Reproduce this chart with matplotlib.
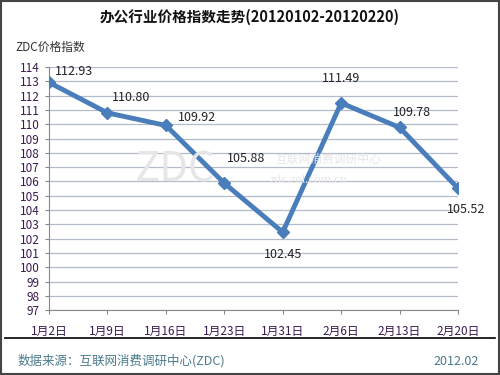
import matplotlib.pyplot as plt
from matplotlib.lines import Line2D

plt.rcParams['font.family'] = ['Noto Sans CJK SC', 'DejaVu Sans']

dates = ["1月2日", "1月9日", "1月16日", "1月23日", "1月31日", "2月6日", "2月13日", "2月20日"]
values = [112.93, 110.80, 109.92, 105.88, 102.45, 111.49, 109.78, 105.52]
# label offsets in pixels (dx, dy) and alignment
label_offsets = [(6, 11, "left"), (4, 15, "left"), (12, 8, "left"), (3, 25, "left"),
                 (0, -22, "center"), (0, 25, "center"), (12, 15, "center"), (8, -21, "center")]

fig = plt.figure(figsize=(5, 3.75), dpi=100)
ax = fig.add_axes([0.098, 0.173, 0.818, 0.648])

x = list(range(len(dates)))
ax.plot(x, values, color="#4A7EBB", lw=3.5, marker="D", ms=6.5,
        markerfacecolor="#4A7EBB", markeredgecolor="#4A7EBB", zorder=3)

for xi, v, (dx, dy, ha) in zip(x, values, label_offsets):
    ax.annotate(f"{v:.2f}", (xi, v), xytext=(dx, dy), textcoords="offset pixels",
                ha=ha, va="center", fontsize=9, color="#222222", zorder=4)

ax.set_xlim(0, len(dates) - 1)
ax.set_ylim(97, 114)
ax.set_yticks(range(97, 115))
ax.set_xticks(x)
ax.set_xticklabels(dates)
ax.tick_params(axis="both", colors="#888888", labelcolor="#3a1a50", labelsize=8.5, length=3)
ax.tick_params(axis="x", pad=8)
ax.grid(axis="y", color="#b4bccc", lw=0.9)
ax.set_axisbelow(True)
for s in ["top", "right"]:
    ax.spines[s].set_visible(False)
for s in ["left", "bottom"]:
    ax.spines[s].set_color("#888888")

# watermark
fig.text(0.35, 0.547, "ZDC", fontsize=30, color="#e6e6e6", ha="center", va="center", zorder=0)
fig.text(0.55, 0.575, "互联网消费调研中心", fontsize=8.5, color="#e6e6e6", ha="left", va="center", zorder=0)
fig.text(0.54, 0.52, "zdc.zol.com.cn", fontsize=8, color="#e6e6e6", ha="left", va="center", zorder=0)

fig.text(0.5, 0.955, "办公行业价格指数走势(20120102-20120220)", ha="center", va="center",
         fontsize=10.5, fontweight="bold", color="#111111")
fig.text(0.03, 0.875, "ZDC价格指数", ha="left", va="center", fontsize=8.5, color="#333333")
fig.text(0.035, 0.037, "数据来源：互联网消费调研中心(ZDC)", ha="left", va="center",
         fontsize=9, color="#4a7a8c")
fig.text(0.958, 0.037, "2012.02", ha="right", va="center", fontsize=9, color="#4a7a8c")

fig.add_artist(Line2D([0.01, 0.99], [0.099, 0.099], color="black", lw=1.2))
fig.add_artist(plt.Rectangle((0.002, 0.003), 0.996, 0.994, fill=False, edgecolor="#444444", lw=1.5))

fig.savefig("out.png", dpi=100)
